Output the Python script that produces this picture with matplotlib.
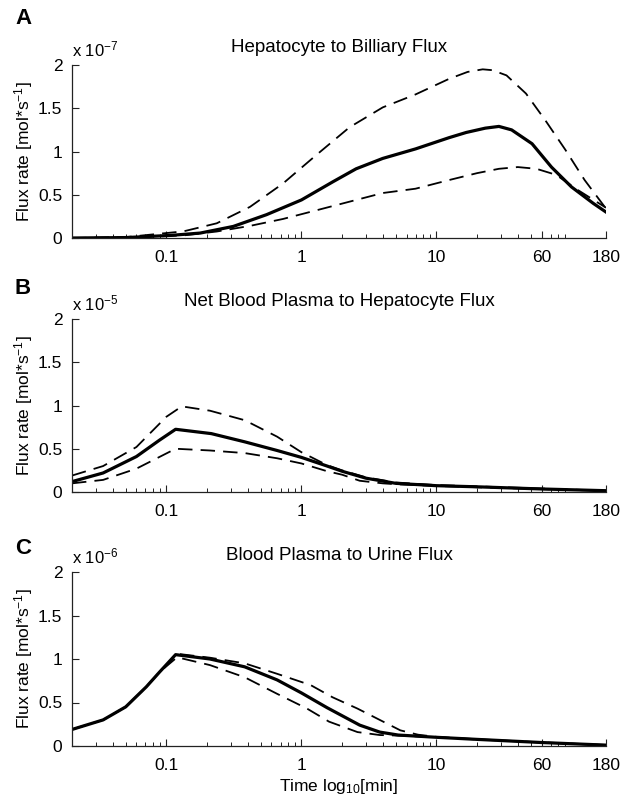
import matplotlib
matplotlib.use("Agg")
import matplotlib.pyplot as plt
from matplotlib.ticker import LogLocator, FixedLocator, FixedFormatter, NullFormatter

plt.rcParams['font.family'] = ['Liberation Sans', 'DejaVu Sans']
plt.rcParams['mathtext.default'] = 'regular'

# ---------------- data (time in min, flux in scaled units) ----------------
# Panel A: Hepatocyte to Billiary Flux (x 1e-7)
tA_mid = [0.02, 0.05, 0.107, 0.178, 0.313, 0.552, 1, 1.71, 2.54, 4, 7, 12.4, 16.6, 23, 29, 36, 51, 71, 100, 145, 180]
A_mid = [0, 0.005, 0.03, 0.057, 0.134, 0.27, 0.44, 0.65, 0.80, 0.92, 1.03, 1.16, 1.22, 1.27, 1.29, 1.25, 1.09, 0.82, 0.59, 0.40, 0.30]
tA_up = [0.02, 0.05, 0.134, 0.236, 0.416, 0.73, 1.29, 2.27, 4, 7, 12.4, 17, 22, 26, 33, 46, 64, 90, 125, 180]
A_up = [0, 0.01, 0.077, 0.17, 0.36, 0.63, 0.96, 1.28, 1.51, 1.66, 1.84, 1.92, 1.95, 1.94, 1.88, 1.67, 1.36, 1.02, 0.67, 0.34]
tA_lo = [0.02, 0.05, 0.134, 0.236, 0.416, 0.73, 1.29, 2.27, 4, 7, 12.4, 20, 29, 40, 55, 77, 110, 180]
A_lo = [0, 0.004, 0.03, 0.075, 0.14, 0.22, 0.32, 0.42, 0.52, 0.57, 0.67, 0.75, 0.80, 0.82, 0.80, 0.73, 0.56, 0.35]

# Panel B: Net Blood Plasma to Hepatocyte Flux (x 1e-5)
tB_mid = [0.02, 0.034, 0.06, 0.089, 0.117, 0.215, 0.38, 0.66, 1, 1.55, 2, 3, 5, 10, 20, 60, 180]
B_mid = [0.12, 0.22, 0.41, 0.6, 0.725, 0.675, 0.58, 0.48, 0.40, 0.30, 0.24, 0.16, 0.10, 0.073, 0.06, 0.035, 0.015]
tB_up = [0.02, 0.034, 0.06, 0.1, 0.13, 0.21, 0.38, 0.66, 1, 1.55, 2, 3, 5, 10, 20, 60, 180]
B_up = [0.19, 0.30, 0.52, 0.87, 0.99, 0.94, 0.83, 0.64, 0.46, 0.31, 0.25, 0.17, 0.11, 0.08, 0.065, 0.04, 0.015]
tB_lo = [0.02, 0.034, 0.06, 0.117, 0.21, 0.38, 0.66, 1, 1.55, 2, 2.7, 4, 5, 10, 20, 60, 180]
B_lo = [0.10, 0.14, 0.27, 0.50, 0.48, 0.45, 0.39, 0.33, 0.24, 0.20, 0.13, 0.10, 0.09, 0.07, 0.055, 0.033, 0.012]

# Panel C: Blood Plasma to Urine Flux (x 1e-6)
tC_mid = [0.02, 0.034, 0.05, 0.071, 0.089, 0.117, 0.21, 0.38, 0.66, 1, 1.55, 2.7, 3.8, 5.2, 10, 20, 60, 180]
C_mid = [0.19, 0.30, 0.45, 0.68, 0.85, 1.05, 1.0, 0.91, 0.76, 0.61, 0.44, 0.24, 0.16, 0.126, 0.10, 0.076, 0.04, 0.01]
tC_up = [0.02, 0.034, 0.05, 0.071, 0.089, 0.12, 0.21, 0.38, 0.66, 1.17, 1.7, 2.6, 3.8, 5.4, 7.3, 10, 20, 60, 180]
C_up = [0.19, 0.30, 0.45, 0.68, 0.85, 1.06, 1.015, 0.95, 0.83, 0.70, 0.56, 0.43, 0.30, 0.18, 0.13, 0.105, 0.078, 0.042, 0.012]
tC_lo = [0.02, 0.034, 0.05, 0.071, 0.089, 0.12, 0.21, 0.38, 0.66, 1.1, 1.6, 2.6, 3.8, 5.2, 10, 20, 60, 180]
C_lo = [0.19, 0.30, 0.45, 0.68, 0.85, 1.02, 0.93, 0.79, 0.60, 0.43, 0.28, 0.16, 0.126, 0.12, 0.10, 0.075, 0.04, 0.01]

titles = ["Hepatocyte to Billiary Flux", "Net Blood Plasma to Hepatocyte Flux", "Blood Plasma to Urine Flux"]
exponents = ["-7", "-5", "-6"]
panel_letters = ["A", "B", "C"]
xticks = [0.1, 1, 10, 60, 180]
xticklabels = ["0.1", "1", "10", "60", "180"]
yticks = [0, 0.5, 1, 1.5, 2]
yticklabels = ["0", "0.5", "1", "1.5", "2"]

panels = [
    (tA_mid, A_mid, tA_up, A_up, tA_lo, A_lo),
    (tB_mid, B_mid, tB_up, B_up, tB_lo, B_lo),
    (tC_mid, C_mid, tC_up, C_up, tC_lo, C_lo),
]

W, H = 625, 797
fig = plt.figure(figsize=(W / 100, H / 100), dpi=100)

# axes boxes in pixels: (left, top, right, bottom)
boxes = [(72, 65, 606, 238), (72, 319, 606, 492), (72, 572, 606, 746)]
letter_y = [18, 288, 548]

fs = 12.5
for i, (box, data) in enumerate(zip(boxes, panels)):
    l, t, r, b = box
    ax = fig.add_axes([l / W, 1 - b / H, (r - l) / W, (b - t) / H])
    tm, ym, tu, yu, tl, yl = data
    ax.plot(tu, yu, color='black', lw=1.3, dashes=(8, 4.5))
    ax.plot(tl, yl, color='black', lw=1.3, dashes=(8, 4.5))
    ax.plot(tm, ym, color='black', lw=2.3)
    ax.set_xscale('log')
    ax.set_xlim(0.02, 180)
    ax.set_ylim(0, 2)
    ax.xaxis.set_major_locator(FixedLocator(xticks))
    ax.xaxis.set_major_formatter(FixedFormatter(xticklabels))
    ax.xaxis.set_minor_locator(LogLocator(base=10, subs=range(2, 10), numticks=20))
    ax.xaxis.set_minor_formatter(NullFormatter())
    ax.set_yticks(yticks)
    ax.set_yticklabels(yticklabels)
    for s in ['top', 'right']:
        ax.spines[s].set_visible(False)
    for s in ['left', 'bottom']:
        ax.spines[s].set_linewidth(0.9)
        ax.spines[s].set_color('#222222')
    ax.tick_params(axis='x', which='major', direction='in', length=5, width=0.8,
                   labelsize=fs, colors='#222222', labelcolor='black', pad=8.5)
    ax.tick_params(axis='y', which='major', direction='in', length=5, width=0.8,
                   labelsize=fs, colors='#222222', labelcolor='black', pad=7)
    ax.tick_params(axis='x', which='minor', direction='in', length=3, width=0.7, colors='#222222')
    ax.set_ylabel("Flux rate [mol*s$^{-1}$]", fontsize=fs, labelpad=2)
    ax.set_title(titles[i], fontsize=13.5, pad=9)
    ax.text(0.0, 1.03, "x 10$^{%s}$" % exponents[i], transform=ax.transAxes,
            fontsize=fs - 0.5, ha='left', va='bottom')
    fig.text(15 / W, 1 - letter_y[i] / H, panel_letters[i], fontsize=16,
             fontweight='bold', ha='left', va='center')
    if i == 2:
        ax.set_xlabel("Time log$_{10}$[min]", fontsize=fs, labelpad=3)

fig.savefig("out.png", dpi=100)
